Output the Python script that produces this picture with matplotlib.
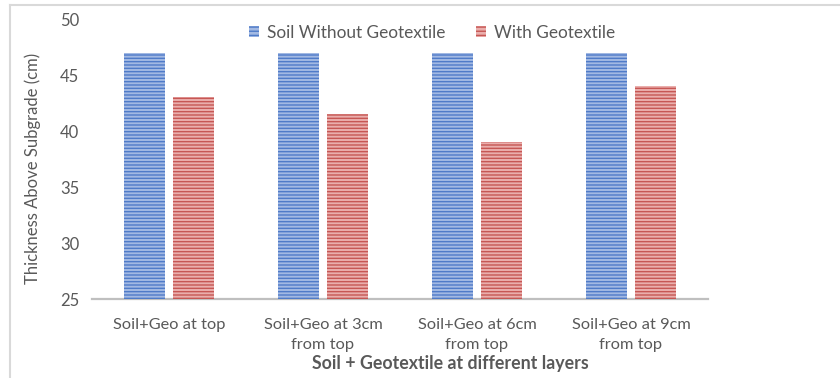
import matplotlib
matplotlib.use("Agg")
import matplotlib.pyplot as plt
from matplotlib.patches import Patch
from matplotlib.lines import Line2D
import numpy as np

plt.rcParams['font.family'] = ['Lato', 'DejaVu Sans']
plt.rcParams['hatch.linewidth'] = 1.0

categories = ["Soil+Geo at top", "Soil+Geo at 3cm\nfrom top",
              "Soil+Geo at 6cm\nfrom top", "Soil+Geo at 9cm\nfrom top"]
without_geo = [47, 47, 47, 47]
with_geo = [43, 41.5, 39, 44]
series_names = ["Soil Without Geotextile", "With Geotextile"]
y_ticks = [25, 30, 35, 40, 45, 50]

text_color = "#595959"
blue_face, blue_line = "#a2b9e3", "#4f7bc8"
red_face, red_line = "#eaaeac", "#c65754"

fig = plt.figure(figsize=(8.4, 3.78), dpi=100)
ax = fig.add_axes([92 / 840, 1 - 299 / 378, 616 / 840, 280 / 378])

x = np.arange(len(categories))
width = 0.266
offset = 0.159


def striped_bars(xpos, values, face, line):
    ax.bar(xpos, [v - 25 for v in values], width, bottom=25,
           color=face, edgecolor="none", zorder=2)
    ax.bar(xpos, [v - 25 for v in values], width, bottom=25,
           facecolor="none", edgecolor=line, hatch="-----", linewidth=0,
           zorder=3)


striped_bars(x - offset, without_geo, blue_face, blue_line)
striped_bars(x + offset, with_geo, red_face, red_line)

ax.set_xlim(-0.5, 3.5)
ax.set_ylim(25, 50)
ax.set_yticks(y_ticks)
ax.set_xticks(x)
ax.set_xticklabels(categories, linespacing=1.55)
ax.tick_params(axis="y", length=0, pad=9, labelsize=12, labelcolor=text_color)
ax.tick_params(axis="x", length=0, pad=14, labelsize=11.8, labelcolor=text_color)
for side in ["top", "right", "left"]:
    ax.spines[side].set_visible(False)
ax.spines["bottom"].set_color("#bfbfbf")
ax.spines["bottom"].set_linewidth(1.6)

fig.text(33 / 840, 1 - 168 / 378, "Thickness Above Subgrade (cm)", rotation=90,
         ha="center", va="center", fontsize=12, color=text_color)
fig.text(450 / 840, 1 - 363 / 378, "Soil + Geotextile at different layers",
         ha="center", va="center", fontsize=12.8, fontweight="bold",
         color=text_color)

handles = [Patch(facecolor=blue_face, edgecolor=blue_line, hatch="----", linewidth=0),
           Patch(facecolor=red_face, edgecolor=red_line, hatch="----", linewidth=0)]
leg = fig.legend(handles, series_names, loc="center",
                 bbox_to_anchor=(432 / 840, 1 - 33 / 378), ncol=2, frameon=False,
                 fontsize=12.4, handlelength=0.6, handleheight=0.6,
                 handletextpad=0.45, columnspacing=1.8)
for t in leg.get_texts():
    t.set_color(text_color)

# outer chart frame (top and left edges)
frame_color = "#d9d9d9"
fig.add_artist(Line2D([10 / 840, 10 / 840], [0, 1 - 5 / 378],
                      transform=fig.transFigure, color=frame_color, lw=1.5))
fig.add_artist(Line2D([10 / 840, 1], [1 - 5 / 378, 1 - 5 / 378],
                      transform=fig.transFigure, color=frame_color, lw=1.5))

fig.savefig("out.png", dpi=100, facecolor="white")
